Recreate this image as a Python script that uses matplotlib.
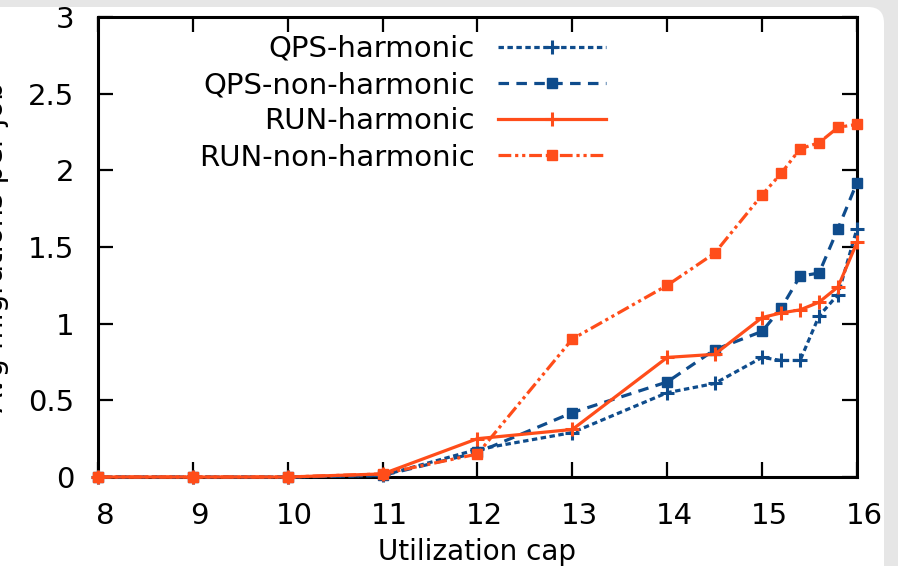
"""Avg migrations per job vs utilization cap, QPS and RUN."""

import matplotlib
matplotlib.use("Agg")
import matplotlib.pyplot as plt
from matplotlib.patches import FancyBboxPatch
from matplotlib.transforms import IdentityTransform, ScaledTranslation

util_cap = [8, 9, 10, 11, 12, 13, 14, 14.5, 15, 15.2, 15.4, 15.6, 15.8, 16]
qps_harmonic = [0, 0, 0, 0.01, 0.18, 0.29, 0.55, 0.61, 0.78, 0.76, 0.76, 1.05, 1.19, 1.62]
qps_non_harmonic = [0, 0, 0, 0.01, 0.16, 0.42, 0.62, 0.83, 0.95, 1.10, 1.31, 1.33, 1.62, 1.92]
run_harmonic = [0, 0, 0, 0.02, 0.25, 0.31, 0.78, 0.80, 1.04, 1.07, 1.09, 1.14, 1.24, 1.53]
run_non_harmonic = [0, 0, 0, 0.02, 0.15, 0.90, 1.25, 1.46, 1.84, 1.98, 2.14, 2.18, 2.28, 2.30]

x_ticks = [8, 9, 10, 11, 12, 13, 14, 15, 16]
y_ticks = [0, 0.5, 1, 1.5, 2, 2.5, 3]
y_tick_labels = ["0", "0.5", "1", "1.5", "2", "2.5", "3"]

BLUE = "#0f4c8c"
ORANGE = "#ff4d1a"

plt.rcParams["font.family"] = ["DejaVu Sans"]

fig = plt.figure(figsize=(8.98, 5.66), dpi=100)
fig.patch.set_facecolor("#e6e6e6")

# white page with a rounded top-right corner, grey strip on top and right
page = FancyBboxPatch((-40, -40), 884 + 40, 559 + 40,
                      boxstyle="round,pad=0,rounding_size=16",
                      facecolor="white", edgecolor="none",
                      transform=IdentityTransform(), zorder=-10)
fig.add_artist(page)

ax = fig.add_axes([98 / 898, 1 - 477 / 566, (857 - 98) / 898, (477 - 17) / 566])

lw = 2.3
ax.plot(util_cap, qps_harmonic, color=BLUE, lw=lw, dashes=(1.7, 1.1),
        marker="+", ms=10, mew=2.2, label="QPS-harmonic", clip_on=False, zorder=3)
ax.plot(util_cap, qps_non_harmonic, color=BLUE, lw=lw, dashes=(3.3, 2.3),
        marker="s", ms=7.8, label="QPS-non-harmonic", clip_on=False, zorder=3)
ax.plot(util_cap, run_harmonic, color=ORANGE, lw=lw, ls="-",
        marker="+", ms=10, mew=2.2, label="RUN-harmonic", clip_on=False, zorder=3)
ax.plot(util_cap, run_non_harmonic, color=ORANGE, lw=lw,
        dashes=(4, 1.2, 1, 1.2, 1, 1.2),
        marker="s", ms=7.8, label="RUN-non-harmonic", clip_on=False, zorder=3)

ax.set_xlim(8, 16)
ax.set_ylim(0, 3)
ax.set_xticks(x_ticks)
ax.set_yticks(y_ticks)
ax.set_yticklabels(y_tick_labels)

for side in ax.spines.values():
    side.set_linewidth(2.2)
ax.tick_params(direction="in", length=10.8, width=1.6, labelsize=21,
               top=True, right=True)
ax.tick_params(axis="y", pad=17)
ax.tick_params(axis="x", pad=18)

shift = ScaledTranslation(7 / 100, 0, fig.dpi_scale_trans)
for lab in ax.get_xticklabels():
    lab.set_transform(lab.get_transform() + shift)

ax.set_xlabel("Utilization cap", fontsize=20, labelpad=6)
fig.text(9 / 898, 1 - 247 / 566, "Avg migrations per job", rotation=90,
         ha="right", va="center", fontsize=21)

ax.legend(loc="upper right", bbox_to_anchor=(606 / 898, 1 - 35 / 566),
          bbox_transform=fig.transFigure, frameon=False, markerfirst=False,
          numpoints=1, fontsize=21, handlelength=3.7, handletextpad=0.8,
          labelspacing=0.28, borderpad=0, borderaxespad=0)

fig.savefig("out.png", dpi=100, facecolor=fig.get_facecolor())
